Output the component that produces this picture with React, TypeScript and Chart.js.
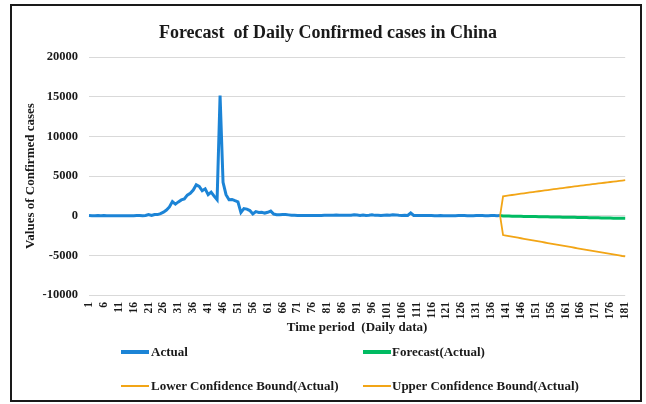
import React, { useEffect, useRef } from "react";
import { Chart, registerables } from "chart.js";

Chart.register(...registerables);

const days = [
  1, 2, 3, 4, 5, 6, 7, 8, 9, 10, 11, 12, 13, 14, 15, 16, 17, 18, 19, 20,
  21, 22, 23, 24, 25, 26, 27, 28, 29, 30, 31, 32, 33, 34, 35, 36, 37, 38, 39, 40,
  41, 42, 43, 44, 45, 46, 47, 48, 49, 50, 51, 52, 53, 54, 55, 56, 57, 58, 59, 60,
  61, 62, 63, 64, 65, 66, 67, 68, 69, 70, 71, 72, 73, 74, 75, 76, 77, 78, 79, 80,
  81, 82, 83, 84, 85, 86, 87, 88, 89, 90, 91, 92, 93, 94, 95, 96, 97, 98, 99, 100,
  101, 102, 103, 104, 105, 106, 107, 108, 109, 110, 111, 112, 113, 114, 115, 116, 117, 118, 119, 120,
  121, 122, 123, 124, 125, 126, 127, 128, 129, 130, 131, 132, 133, 134, 135, 136, 137, 138, 139, 140,
  141, 142, 143, 144, 145, 146, 147, 148, 149, 150, 151, 152, 153, 154, 155, 156, 157, 158, 159, 160,
  161, 162, 163, 164, 165, 166, 167, 168, 169, 170, 171, 172, 173, 174, 175, 176, 177, 178, 179, 180,
  181,
];

// Actual daily confirmed cases, days 1..139
const actual = [
  27, 0, 0, 17, 0, 15, 0, 0, 0, 0, 0, 0, 1, 0, 0, 4, 17, 20, 4, 17,
  136, 19, 151, 140, 259, 444, 700, 1100, 1771, 1459, 1737, 1982, 2102, 2590, 2829, 3235, 3887, 3694, 3143, 3385,
  2652, 2973, 2467, 2015, 15152, 4200, 2641, 2009, 2048, 1886, 1749, 394, 889, 823, 648, 214, 508, 406, 433, 327,
  427, 573, 202, 125, 119, 139, 143, 99, 44, 40, 19, 24, 15, 20, 11, 16, 21, 13, 34, 39,
  41, 46, 39, 78, 47, 67, 55, 54, 45, 103, 79, 35, 86, 31, 48, 99, 39, 63, 32, 63,
  89, 46, 108, 99, 51, 35, 38, 27, 352, 30, 16, 12, 11, 12, 6, 22, 3, 2, 12, 1,
  3, 4, 1, 2, 14, 17, 7, 1, 2, 5, 16, 11, 6, 5, 3, 6, 8, 4, 10,
];

// Forecast series, days 139..181 (starts at last actual value)
const forecastValues = [
  10,
  -40, -45, -55, -60, -70, -75, -85, -90, -95, -105, -110, -118, -125, -132, -140, -148, -155, -162, -170, -178,
  -185, -192, -200, -207, -215, -222, -230, -238, -245, -252, -260, -268, -275, -282, -290, -298, -305, -312, -320, -327,
  -334, -340,
];

const lowerValues = [
  10,
  -2440, -2508, -2576, -2644, -2712, -2779, -2846, -2913, -2980, -3047, -3114, -3181, -3248, -3315, -3382, -3449, -3516, -3583, -3650, -3717,
  -3784, -3849, -3914, -3979, -4044, -4109, -4174, -4239, -4304, -4369, -4434, -4499, -4564, -4629, -4694, -4759, -4824, -4889, -4954, -5019,
  -5084, -5140,
];

const upperValues = [
  10,
  2440, 2495, 2550, 2604, 2658, 2712, 2765, 2818, 2871, 2923, 2975, 3027, 3079, 3130, 3181, 3232, 3283, 3333, 3383, 3433,
  3483, 3532, 3581, 3630, 3679, 3727, 3775, 3823, 3871, 3918, 3965, 4012, 4059, 4105, 4151, 4197, 4243, 4288, 4333, 4378,
  4423, 4468,
];

const forecastStart = 138; // index of day 139

const yTicksMin = -10000;
const yTicksMax = 20000;
const yStep = 5000;

const BLUE = "#1c84d6";
const GREEN = "#00bb62";
const ORANGE = "#f2a516";
const TEXT = "#1a1a1a";
const FONT = "'Liberation Serif', 'Times New Roman', serif";

function pad(values: number[]): (number | null)[] {
  const out: (number | null)[] = [];
  for (let i = 0; i < forecastStart; i++) out.push(null);
  return out.concat(values);
}

export default function App() {
  const ref = useRef<HTMLCanvasElement | null>(null);

  useEffect(() => {
    if (!ref.current) return;
    Chart.defaults.font.family = FONT;
    const chart = new Chart(ref.current, {
      type: "line",
      data: {
        labels: days.map(String),
        datasets: [
          {
            label: "Actual",
            data: actual,
            borderColor: BLUE,
            backgroundColor: BLUE,
            borderWidth: 3,
            pointRadius: 0,
            tension: 0,
            order: 3,
          },
          {
            label: "Forecast(Actual)",
            data: pad(forecastValues),
            borderColor: GREEN,
            backgroundColor: GREEN,
            borderWidth: 3,
            pointRadius: 0,
            tension: 0,
            order: 2,
          },
          {
            label: "Lower Confidence Bound(Actual)",
            data: pad(lowerValues),
            borderColor: ORANGE,
            backgroundColor: ORANGE,
            borderWidth: 1.8,
            pointRadius: 0,
            tension: 0,
            order: 1,
          },
          {
            label: "Upper Confidence Bound(Actual)",
            data: pad(upperValues),
            borderColor: ORANGE,
            backgroundColor: ORANGE,
            borderWidth: 1.8,
            pointRadius: 0,
            tension: 0,
            order: 0,
          },
        ],
      },
      options: {
        responsive: false,
        animation: false,
        maintainAspectRatio: false,
        layout: { padding: { left: 10, right: 0, top: 0, bottom: 69 } },
        plugins: {
          legend: { display: false },
          tooltip: { enabled: false },
          title: {
            display: true,
            text: "Forecast  of Daily Confirmed cases in China",
            color: TEXT,
            font: { size: 18, weight: "bold", family: FONT },
            padding: { top: 23, bottom: 12.4 },
          },
        },
        scales: {
          x: {
            grid: { display: false, drawTicks: false },
            border: { display: false },
            ticks: {
              autoSkip: false,
              maxRotation: 90,
              minRotation: 90,
              padding: 7,
              color: TEXT,
              font: { size: 11.5, weight: "bold", family: FONT },
              callback: (_v: any, idx: number) => (idx % 5 === 0 ? String(days[idx]) : ""),
            },
            title: {
              display: true,
              text: "Time period  (Daily data)",
              color: TEXT,
              font: { size: 13, weight: "bold", family: FONT },
              padding: { top: 0, bottom: 0 },
            },
            afterFit: (s: any) => {
              s.height = 40;
            },
          },
          y: {
            min: yTicksMin,
            max: yTicksMax,
            grid: { color: "#d9d9d9", lineWidth: 1, drawTicks: false },
            border: { display: false },
            ticks: {
              stepSize: yStep,
              padding: 11,
              color: TEXT,
              font: { size: 12.5, weight: "bold", family: FONT },
              callback: (v: any) => String(v),
            },
            title: {
              display: true,
              text: "Values of Confirmed cases",
              color: TEXT,
              font: { size: 13, weight: "bold", family: FONT },
              padding: { top: 13, bottom: 0 },
            },
            afterFit: (s: any) => {
              s.width = 79;
            },
          },
          yRight: {
            position: "right",
            display: true,
            min: yTicksMin,
            max: yTicksMax,
            grid: { display: false, drawTicks: false },
            border: { display: false },
            ticks: { display: false },
            afterFit: (s: any) => {
              s.width = 20;
            },
          },
        },
      },
    });
    return () => chart.destroy();
  }, []);

  const legendItems = [
    { label: "Actual", color: BLUE, lineLeft: 121, textLeft: 151, y: 352, thick: 3.5 },
    { label: "Forecast(Actual)", color: GREEN, lineLeft: 363, textLeft: 392, y: 352, thick: 3.5 },
    { label: "Lower Confidence Bound(Actual)", color: ORANGE, lineLeft: 121, textLeft: 151, y: 386, thick: 2 },
    { label: "Upper Confidence Bound(Actual)", color: ORANGE, lineLeft: 363, textLeft: 392, y: 386, thick: 2 },
  ];

  return (
    <div style={{ position: "absolute", left: 0, top: 0, width: 646, height: 404, background: "#fff" }}>
      <canvas ref={ref} width={646} height={404} style={{ position: "absolute", left: 0, top: 0, width: 646, height: 404 }} />
      {legendItems.map((it) => (
        <React.Fragment key={it.label}>
          <div
            style={{
              position: "absolute",
              left: it.lineLeft,
              top: it.y - it.thick / 2,
              width: 28,
              height: it.thick,
              background: it.color,
            }}
          />
          <div
            style={{
              position: "absolute",
              left: it.textLeft,
              top: it.y - 9,
              height: 18,
              lineHeight: "18px",
              fontFamily: FONT,
              fontWeight: "bold",
              fontSize: 13,
              color: TEXT,
              whiteSpace: "nowrap",
            }}
          >
            {it.label}
          </div>
        </React.Fragment>
      ))}
      <div
        style={{
          position: "absolute",
          left: 10,
          top: 4,
          width: 632,
          height: 398,
          border: "2px solid #1a1a1a",
          boxSizing: "border-box",
          pointerEvents: "none",
        }}
      />
    </div>
  );
}
